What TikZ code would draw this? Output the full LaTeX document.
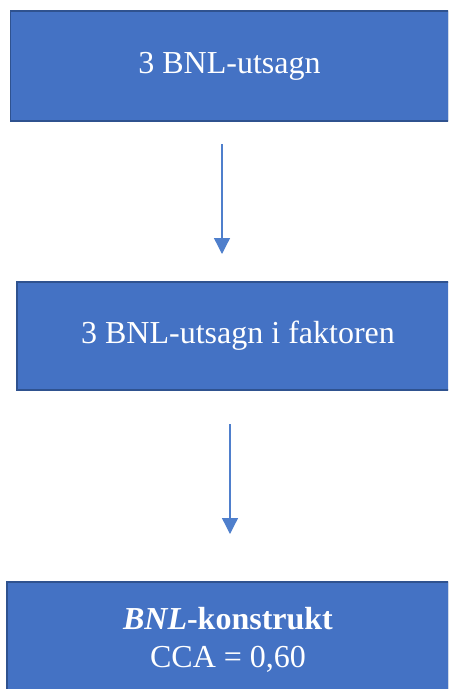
\documentclass[tikz,border=0pt]{standalone}
\usepackage{fontspec}
\setmainfont{Liberation Serif}
\usetikzlibrary{arrows.meta}
\definecolor{boxfill}{HTML}{4472C4}
\definecolor{boxline}{HTML}{2F528F}
\definecolor{arrowcol}{HTML}{4F7FCC}
\begin{document}
\begin{tikzpicture}[x=1pt,y=-1pt,
  bluebox/.style={draw=boxline,fill=boxfill,line width=1.5pt,inner sep=0pt,text=white,
    font=\fontsize{32}{38}\selectfont,align=center},
  flowarrow/.style={draw=arrowcol,line width=1.3pt,-{Triangle[width=16pt,length=16pt]}}]
\useasboundingbox (0,0) rectangle (448,689);
\clip (0,0) rectangle (448,689);
\node[bluebox,minimum width=438pt,minimum height=110pt] (b1) at (229.5,66) {3 BNL-utsagn};
\node[bluebox,minimum width=442pt,minimum height=108pt] (b2) at (238,336) {3 BNL-utsagn i faktoren};
\node[bluebox,minimum width=442pt,minimum height=116pt] (b3) at (228,640) {\textbf{\textit{BNL}-konstrukt}\\CCA = 0,60};
\coordinate (a1s) at (222,144);
\coordinate (a1e) at (222,254);
\coordinate (a2s) at (230,424);
\coordinate (a2e) at (230,534);
\draw[flowarrow] (a1s) -- (a1e);
\draw[flowarrow] (a2s) -- (a2e);
\end{tikzpicture}
\end{document}
